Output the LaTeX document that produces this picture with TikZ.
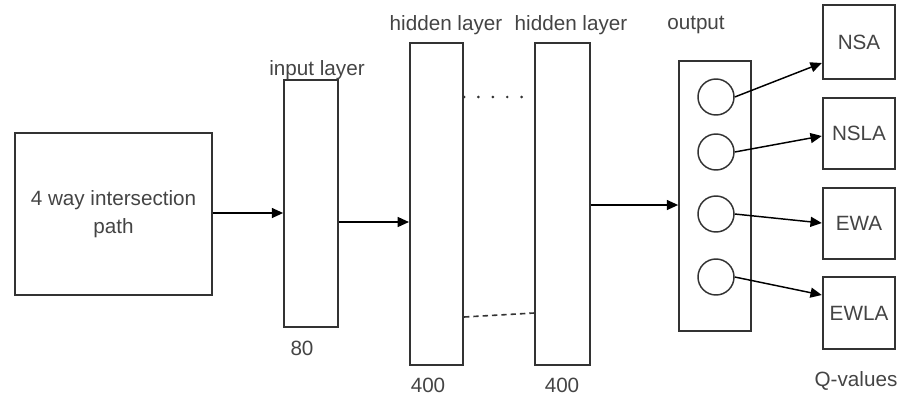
\documentclass[tikz,border=0pt]{standalone}
\usepackage{fontspec}
\setmainfont{Liberation Sans}
\usetikzlibrary{arrows.meta}
\definecolor{ln}{HTML}{333333}
\definecolor{tx}{HTML}{444444}
\begin{document}
\begin{tikzpicture}[x=0.75pt,y=-0.75pt,
  box/.style={draw=ln,line width=1.3pt,inner sep=0pt},
  lbl/.style={text=tx,font=\fontsize{15.5}{20.5}\selectfont,inner sep=0pt},
  neuron/.style={draw=ln,line width=1.1pt,circle,minimum size=27pt,inner sep=0pt},
  conn/.style={draw=black,line width=1.1pt,-{Triangle[length=8.5pt,width=7.5pt]}}]
\useasboundingbox (0,0) rectangle (903,397);
% main boxes
\node[box,minimum width=148pt,minimum height=121.5pt,align=center,lbl,draw=ln] (src) at (113.5,214) {4 way intersection\\path};
\node[box,minimum width=40.5pt,minimum height=185pt] (inp) at (311,203.5) {};
\node[box,minimum width=40pt,minimum height=241.5pt] (h1) at (436.5,204) {};
\node[box,minimum width=41pt,minimum height=241.5pt] (h2) at (562.5,204) {};
\node[box,minimum width=54pt,minimum height=202.5pt] (out) at (715,196) {};
% neurons
\node[neuron] (n1) at (716,97) {};
\node[neuron] (n2) at (716,152) {};
\node[neuron] (n3) at (716,214) {};
\node[neuron] (n4) at (716,277) {};
% action boxes
\node[box,minimum width=54.5pt,minimum height=55.5pt,lbl,draw=ln] (a1) at (859,42) {NSA};
\node[box,minimum width=54.5pt,minimum height=53.5pt,lbl,draw=ln] (a2) at (859,133.5) {NSLA};
\node[box,minimum width=54.5pt,minimum height=53.5pt,lbl,draw=ln] (a3) at (859,223.5) {EWA};
\node[box,minimum width=54.5pt,minimum height=54pt,lbl,draw=ln] (a4) at (859,313) {EWLA};
% labels
\node[lbl] (linp) at (317,70) {input layer};
\node[lbl] (lh1) at (446,25) {hidden layer};
\node[lbl] (lh2) at (571,25) {hidden layer};
\node[lbl] (lout) at (696,25) {output};
\node[lbl] (v1) at (302,348) {80};
\node[lbl] (v2) at (428,385) {400};
\node[lbl] (v3) at (562,385) {400};
\node[lbl] (lq) at (856,381) {Q-values};
% connectors
\draw[conn] (src.east |- 0,213) -- (inp.west |- 0,213);
\draw[conn] (inp.east |- 0,222) -- (h1.west |- 0,222);
\draw[conn] (h2.east |- 0,205) -- (out.west |- 0,205);
\coordinate (d1a) at (h1.east |- 0,97);
\coordinate (d1b) at (h2.west |- 0,97);
\draw[ln,line width=2.2pt,line cap=round,dash pattern=on 0pt off 10.8pt] (d1a) -- (d1b);
\coordinate (d2a) at (h1.east |- 0,317);
\coordinate (d2b) at (h2.west |- 0,313);
\draw[ln,line width=1.2pt,dash pattern=on 4pt off 3pt] (d2a) -- (d2b);
\draw[conn] (n1.east) -- (a1.west |- 0,63);
\draw[conn] (n2.east) -- (a2.west |- 0,136);
\draw[conn] (n3.east) -- (a3.west |- 0,223);
\draw[conn] (n4.east) -- (a4.west |- 0,295);
\end{tikzpicture}
\end{document}
